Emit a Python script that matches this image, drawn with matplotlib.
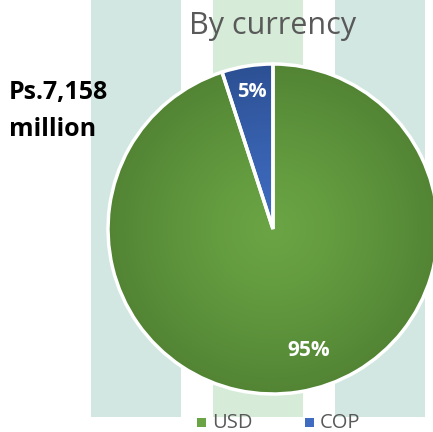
import numpy as np
import matplotlib.pyplot as plt
from matplotlib.patches import Rectangle

labels = ["USD", "COP"]
shares = [95, 5]
pct_labels = ["95%", "5%"]
total_label = "Ps.7,158\nmillion"
title = "By currency"

greens = ("#6aa444", "#528434")   # centre, rim
blues = ("#3f6cc0", "#2c5093")

W, H = 433, 432
fig = plt.figure(figsize=(W / 100, H / 100), dpi=100)
ax = fig.add_axes([0, 0, 1, 1])
ax.set_xlim(0, W)
ax.set_ylim(0, H)
ax.axis("off")

# background stripes
for x0, col in [(91, "#d2e7e1"), (213, "#d6ecd8"), (335, "#d2e7e1")]:
    ax.add_patch(Rectangle((x0, H - 417), 90, 417, color=col, lw=0, zorder=0))

cx, cy, r = 273, H - 229, 165
wedges, _ = ax.pie(shares, center=(cx, cy), radius=r, startangle=90,
                   counterclock=False, frame=True,
                   wedgeprops=dict(edgecolor="white", linewidth=2.5),
                   colors=[greens[1], blues[1]])
ax.set_xlim(0, W)
ax.set_ylim(0, H)
ax.set_aspect("equal")
ax.axis("off")

# radial shading inside each slice
yy, xx = np.mgrid[cy - r:cy + r:400j, cx - r:cx + r:400j]
dist = np.clip(np.hypot(xx - cx, yy - cy) / r, 0, 1)[..., None]
for w, (c0, c1) in zip(wedges, [greens, blues]):
    a = np.array(plt.matplotlib.colors.to_rgb(c0))
    b = np.array(plt.matplotlib.colors.to_rgb(c1))
    img = a + (b - a) * dist ** 1.3
    im = ax.imshow(img, extent=(cx - r, cx + r, cy - r, cy + r), origin="lower",
                   zorder=w.get_zorder() + 0.1, interpolation="bilinear")
    im.set_clip_path(w)
    w.set_facecolor("none")
    w.set_zorder(w.get_zorder() + 0.2)

ax.text(309, H - 351, pct_labels[0], color="white", fontsize=15, fontweight="bold",
        ha="center", va="center", family="Open Sans", zorder=5)
ax.text(252, H - 92, pct_labels[1], color="white", fontsize=14.5, fontweight="bold",
        ha="center", va="center", family="Open Sans", zorder=5)

ax.text(273, H - 26, title, fontsize=22, color="#595959", ha="center", va="center",
        family="Open Sans", zorder=5)
ax.text(9, H - 111, total_label, fontsize=18, fontweight="bold", color="black",
        ha="left", va="center", family="Open Sans", linespacing=1.6, zorder=5)

# legend
for lx, lab, col in [(201, labels[0], greens[0]), (309, labels[1], blues[0])]:
    ax.add_patch(Rectangle((lx - 4, H - 427), 9, 9, color=col, lw=0, zorder=5))
    ax.text(lx + 11, H - 423, lab, fontsize=14.5, color="#595959", ha="left",
            va="center", family="Open Sans", zorder=5)

fig.savefig("out.png", dpi=100)
